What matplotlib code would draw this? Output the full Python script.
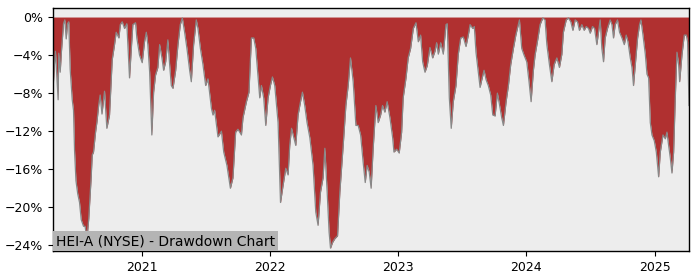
import matplotlib

matplotlib.use("Agg")
import matplotlib.dates as mdates
import matplotlib.pyplot as plt
import numpy as np
import pandas as pd
from matplotlib.ticker import FuncFormatter

# dates as decimal years, drawdown in percent
years = [
    2020.309, 2020.320, 2020.328, 2020.336, 2020.349, 2020.354, 2020.365, 2020.375,
    2020.391, 2020.401, 2020.412, 2020.422, 2020.432, 2020.443, 2020.459, 2020.469,
    2020.477, 2020.488, 2020.502, 2020.516, 2020.529, 2020.547, 2020.559, 2020.574,
    2020.588, 2020.607, 2020.615, 2020.625, 2020.641, 2020.652, 2020.666, 2020.677,
    2020.691, 2020.711, 2020.729, 2020.750, 2020.771, 2020.789, 2020.802, 2020.823,
    2020.834, 2020.849, 2020.867, 2020.885, 2020.906, 2020.920, 2020.932, 2020.953,
    2020.963, 2020.984, 2021.005, 2021.023, 2021.037, 2021.049, 2021.063, 2021.080,
    2021.094, 2021.109, 2021.127, 2021.141, 2021.159, 2021.172, 2021.188, 2021.205,
    2021.219, 2021.232, 2021.245, 2021.266, 2021.284, 2021.302, 2021.318, 2021.336,
    2021.354, 2021.375, 2021.388, 2021.406, 2021.427, 2021.440, 2021.459, 2021.479,
    2021.500, 2021.518, 2021.545, 2021.557, 2021.570, 2021.596, 2021.623, 2021.641,
    2021.666, 2021.693, 2021.713, 2021.734, 2021.752, 2021.779, 2021.791, 2021.818,
    2021.838, 2021.857, 2021.875, 2021.891, 2021.909, 2021.922, 2021.935, 2021.953,
    2021.969, 2021.987, 2022.005, 2022.021, 2022.039, 2022.065, 2022.084, 2022.104,
    2022.125, 2022.143, 2022.156, 2022.170, 2022.188, 2022.203, 2022.221, 2022.240,
    2022.255, 2022.273, 2022.291, 2022.313, 2022.338, 2022.359, 2022.377, 2022.396,
    2022.416, 2022.430, 2022.448, 2022.463, 2022.474, 2022.490, 2022.508, 2022.529,
    2022.547, 2022.573, 2022.594, 2022.612, 2022.630, 2022.651, 2022.672, 2022.690,
    2022.709, 2022.729, 2022.745, 2022.760, 2022.776, 2022.791, 2022.807, 2022.828,
    2022.846, 2022.865, 2022.880, 2022.898, 2022.916, 2022.938, 2022.959, 2022.969,
    2022.990, 2023.010, 2023.029, 2023.041, 2023.063, 2023.080, 2023.099, 2023.120,
    2023.141, 2023.159, 2023.177, 2023.193, 2023.211, 2023.229, 2023.250, 2023.271,
    2023.289, 2023.302, 2023.315, 2023.334, 2023.354, 2023.375, 2023.385, 2023.401,
    2023.416, 2023.432, 2023.453, 2023.471, 2023.490, 2023.510, 2023.531, 2023.549,
    2023.563, 2023.584, 2023.596, 2023.609, 2023.627, 2023.641, 2023.654, 2023.672,
    2023.688, 2023.705, 2023.724, 2023.740, 2023.758, 2023.776, 2023.791, 2023.810,
    2023.823, 2023.844, 2023.862, 2023.880, 2023.901, 2023.920, 2023.932, 2023.948,
    2023.966, 2023.984, 2024.005, 2024.023, 2024.039, 2024.057, 2024.070, 2024.088,
    2024.109, 2024.130, 2024.148, 2024.162, 2024.182, 2024.201, 2024.219, 2024.240,
    2024.260, 2024.279, 2024.291, 2024.313, 2024.330, 2024.349, 2024.365, 2024.383,
    2024.401, 2024.416, 2024.435, 2024.453, 2024.469, 2024.487, 2024.500, 2024.518,
    2024.534, 2024.552, 2024.565, 2024.578, 2024.591, 2024.604, 2024.617, 2024.635,
    2024.656, 2024.670, 2024.682, 2024.695, 2024.713, 2024.729, 2024.748, 2024.766,
    2024.781, 2024.795, 2024.813, 2024.826, 2024.838, 2024.852, 2024.870, 2024.885,
    2024.896, 2024.912, 2024.930, 2024.943, 2024.956, 2024.969, 2024.982, 2025.000,
    2025.016, 2025.034, 2025.047, 2025.068, 2025.086, 2025.099, 2025.112, 2025.125,
    2025.138, 2025.151, 2025.164, 2025.177, 2025.190, 2025.198, 2025.216, 2025.234,
    2025.250, 2025.260, 2025.271,
]

drawdown = [
    -7.7, -5.0, -3.6, -5.6, -8.7, -3.8, -5.8, -3.6,
    -0.7, -0.3, -2.3, -0.7, -0.5, -5.5, -8.7, -9.8,
    -14.0, -17.2, -18.6, -19.5, -21.3, -22.0, -22.0, -23.3,
    -21.2, -16.8, -14.5, -14.2, -12.1, -11.0, -9.2, -8.2,
    -10.2, -7.8, -11.7, -10.3, -4.5, -2.9, -1.6, -2.2,
    -0.8, -0.5, -1.2, -0.7, -6.4, -3.3, -0.8, -0.6,
    -2.2, -4.0, -4.8, -2.6, -1.6, -2.9, -5.8, -12.4,
    -7.9, -6.1, -5.3, -2.9, -4.3, -5.6, -4.7, -2.4,
    -5.0, -7.2, -7.5, -5.6, -2.9, -0.8, -0.1, -1.6,
    -3.3, -5.6, -6.8, -2.9, -0.3, -1.2, -3.3, -5.0,
    -7.2, -6.5, -9.6, -10.3, -9.8, -12.6, -12.0, -14.2,
    -15.6, -18.0, -16.9, -12.1, -11.8, -12.4, -10.6, -8.9,
    -7.9, -2.2, -2.2, -3.3, -6.4, -8.5, -7.2, -8.5,
    -11.4, -8.5, -7.2, -6.3, -7.2, -11.1, -19.5, -17.7,
    -15.9, -16.6, -13.5, -11.7, -12.7, -13.5, -10.3, -8.9,
    -7.9, -9.3, -11.1, -12.7, -15.6, -20.5, -21.9, -18.4,
    -16.9, -13.8, -18.4, -22.6, -24.3, -23.7, -23.3, -23.0,
    -18.4, -13.5, -9.3, -7.2, -4.3, -6.8, -11.4, -11.4,
    -12.4, -15.3, -17.4, -15.6, -16.3, -18.0, -13.8, -9.3,
    -11.1, -10.3, -9.3, -10.0, -8.9, -10.6, -12.7, -14.2,
    -13.9, -14.3, -12.1, -8.5, -6.4, -4.3, -3.3, -1.2,
    -0.6, -2.6, -1.9, -4.7, -5.8, -5.1, -3.2, -4.3,
    -3.6, -2.7, -3.9, -2.7, -3.9, -0.8, -0.7, -8.5,
    -11.7, -8.9, -7.2, -3.9, -2.2, -2.1, -3.1, -1.9,
    -0.8, -1.2, -1.0, -3.7, -5.8, -7.4, -6.6, -5.6,
    -6.6, -7.2, -8.2, -10.3, -10.4, -8.0, -9.1, -10.6,
    -11.4, -8.9, -7.2, -5.0, -3.3, -1.9, -1.2, -0.3,
    -3.3, -4.0, -4.7, -6.8, -8.9, -5.6, -4.0, -2.6,
    -0.8, -0.1, -0.3, -2.9, -5.0, -6.8, -5.0, -4.3,
    -5.3, -3.9, -1.6, -0.3, -0.1, -0.5, -1.4, -0.3,
    -0.5, -1.4, -0.8, -1.4, -1.0, -1.2, -1.7, -1.0,
    -1.2, -2.9, -1.6, -0.3, -3.3, -4.7, -2.2, -1.2,
    -0.3, -0.8, -2.2, -0.8, -0.3, -1.6, -2.2, -2.9,
    -1.9, -2.6, -4.3, -5.3, -7.2, -5.0, -2.2, -0.8,
    -0.3, -1.9, -3.9, -6.0, -6.4, -11.1, -12.4, -13.0,
    -14.2, -16.8, -14.2, -12.4, -12.8, -12.1, -13.5, -14.8,
    -16.4, -14.2, -8.5, -3.7, -5.0, -6.8, -4.0, -1.9,
    -1.9, -2.6, -9.3,
]

title = "HEI-A (NYSE) - Drawdown Chart"
ytick_values = [0, -4, -8, -12, -16, -20, -24]

yr = np.array(years)
dates = pd.Timestamp("2020-01-01") + pd.to_timedelta((yr - 2020) * 365.25, unit="D")
dd = np.array(drawdown)

fig = plt.figure(figsize=(7, 2.8), dpi=100)
ax = fig.add_axes([53 / 700, 29 / 280, 636 / 700, 243 / 280])
ax.set_facecolor("#ededed")

ax.fill_between(dates, dd, 0, color="#b03030", linewidth=0)
ax.plot(dates, dd, color="#888888", linewidth=0.9)

ax.set_xlim(dates[0], dates[-1])
ax.set_ylim(-24.6, 0.95)
ax.set_yticks(ytick_values)
ax.yaxis.set_major_formatter(FuncFormatter(lambda v, p: f"{v:.0f}%".replace("-", "\u2212")))
ax.xaxis.set_major_locator(mdates.YearLocator())
ax.xaxis.set_major_formatter(mdates.DateFormatter("%Y"))
ax.tick_params(labelsize=9)

for s in ax.spines.values():
    s.set_color("black")
    s.set_linewidth(1)

ax.text(
    0.005,
    0.012,
    title,
    transform=ax.transAxes,
    fontsize=10,
    va="bottom",
    ha="left",
    bbox=dict(facecolor="#b4b4b4", edgecolor="none", pad=2),
)

fig.savefig("out.png", dpi=100)
